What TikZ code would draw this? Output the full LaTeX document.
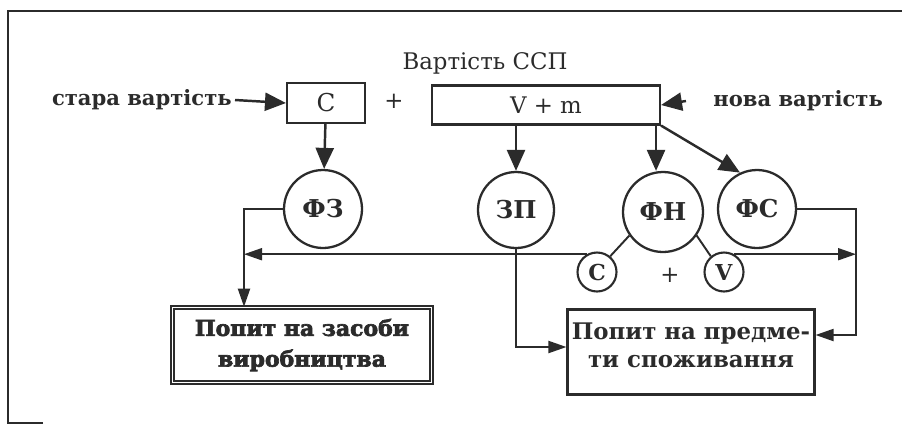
\documentclass[tikz,border=0pt]{standalone}
\usepackage{fontspec}
\setmainfont{DejaVu Serif}
\newfontfamily\heavyfont[FakeBold=3]{DejaVu Serif Bold}
\usetikzlibrary{arrows.meta,positioning,calc}
\definecolor{ink}{HTML}{2B2B2B}

\begin{document}
\begin{tikzpicture}[x=0.02cm, y=-0.02cm, color=ink,
  box/.style={draw=ink, line width=1.2pt, inner sep=2pt, align=center, font=\fontsize{13}{15}\selectfont},
  circ/.style={circle, draw=ink, line width=1.3pt, inner sep=0pt, font=\bfseries\fontsize{14}{16}\selectfont},
  dot/.style={circle, draw=ink, line width=1.2pt, inner sep=0pt, minimum size=0.78cm, font=\bfseries\fontsize{12.5}{14}\selectfont},
  mainflow/.style={-{Triangle[length=4.2mm,width=3.6mm]}, line width=1.4pt, draw=ink},
  subflow/.style={-{Triangle[length=3.6mm,width=2.4mm]}, line width=1.1pt, draw=ink},
  wire/.style={line width=1.1pt, draw=ink},
  lab/.style={inner sep=0pt, font=\fontsize{13}{15}\selectfont},
  blab/.style={inner sep=0pt, font=\bfseries\fontsize{12}{14}\selectfont}]
\useasboundingbox (0,0) rectangle (902,424);

% frame
\draw[line width=1.2pt] (43,423) -- (8,423) -- (8,11) -- (902,11);

% ---------------- value of the product
\node[lab] (ssp) at (485,63) {Вартість ССП};
\node[box, minimum width=1.56cm, minimum height=0.8cm, font=\fontsize{14}{16}\selectfont] (c) at (326,103) {C};
\node[lab] (plus) at (394,101) {+};
\node[box, minimum width=4.56cm, minimum height=0.78cm] (vm) at (546,105) {V + m};
\node[blab, anchor=east] (old) at (232,100) {стара вартість};
\node[blab, anchor=west] (new) at (713,101) {нова вартість};
\draw[mainflow] ([xshift=0.06cm]old.east) -- (c.west);
\draw[mainflow] ([xshift=-0.54cm]new.west) -- (vm.east);

% ---------------- funds
\node[circ, minimum size=1.56cm] (fz) at (323,209) {ФЗ};
\node[circ, minimum size=1.52cm] (zp) at (516,210) {ЗП};
\node[circ, minimum size=1.6cm] (fn) at (663,212) {ФН};
\node[circ, minimum size=1.56cm] (fs) at (757,209) {ФС};
\draw[mainflow] (c) -- (fz);
\draw[mainflow] (vm.south -| zp) -- (zp.north);
\draw[mainflow] ([xshift=-0.1cm]vm.south east) -- ([xshift=-0.1cm]vm.south east |- fn.north);
\draw[mainflow] (vm.south east) -- (fs.115);

% ---------------- split of ФН
\node[dot] (sc) at (597,272) {C};
\node[lab] (plus2) at (670,275) {+};
\node[dot] (sv) at (724,272) {V};
\draw[wire] (fn.215) -- (sc.50);
\draw[wire] (fn.-35) -- (sv.130);

% ---------------- demand
\node[box, double, double distance=1.1pt, line width=0.9pt, minimum width=5.18cm, minimum height=1.5cm,
      font=\heavyfont\fontsize{12.5}{17.5}\selectfont] (zas) at (302,345)
  {Попит на засоби\\виробництва};
\node[box, minimum width=4.94cm, minimum height=1.7cm, font=\bfseries\fontsize{13}{16}\selectfont] (dsp) at (691,352)
  {Попит на предме-\\ти споживання\\[-8pt]\mbox{}};

\coordinate (jz) at (244,255);
\coordinate (jr) at (856,255);
\draw[subflow] (fz.west) -| (jz |- zas.north);
\draw[subflow] (sc.120) -- (sc.120 -| jz);
\draw[subflow] (sv.60) -- (sv.60 -| jr);
\draw[subflow] (fs.east) -- (fs.east -| jr) |- ([yshift=0.34cm]dsp.east);
\draw[subflow] (zp.south) |- ([yshift=0.1cm]dsp.west);
\end{tikzpicture}
\end{document}
